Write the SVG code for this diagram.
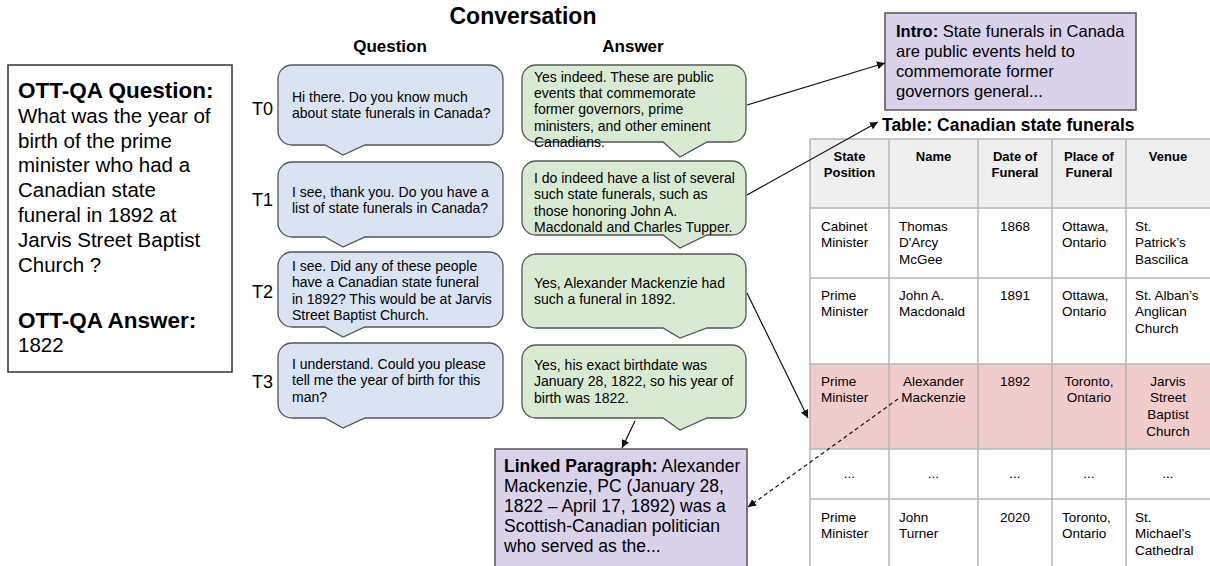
<svg xmlns="http://www.w3.org/2000/svg" width="1210" height="566" viewBox="0 0 1210 566">
<style>
text{font-family:"Liberation Sans",Arial,sans-serif;fill:#000}
.b{font-weight:bold}
.q{fill:#d9e3f1;stroke:#555;stroke-width:1.3}
.a{fill:#d9ead3;stroke:#555;stroke-width:1.3}
.bt{font-size:14px}
.lbl{font-size:18px}
.p{fill:#d9d2e9;stroke:#555;stroke-width:1.5}
.th{font-size:13px;font-weight:bold}
.td{font-size:13.5px}
.c{text-anchor:middle}
.grid{stroke:#b7b7b7;stroke-width:1.5;fill:none}
.con{stroke:#111;stroke-width:1.2;fill:none}
</style>
<defs>
<marker id="ah" viewBox="0 0 10 10" refX="10" refY="5" markerWidth="8" markerHeight="8" markerUnits="userSpaceOnUse" orient="auto">
<path d="M0,0 L10,5 L0,10 z" fill="#111"/>
</marker>
</defs>
<rect width="1210" height="566" fill="#fff"/>

<g id="qa-box">
<rect x="8" y="65" width="224" height="307" fill="#fff" stroke="#333" stroke-width="1.5"/>
<text class="b" x="18" y="98" font-size="22.5">OTT-QA Question:</text>
<text x="18" font-size="20.5"><tspan x="18" y="123">What was the year of</tspan><tspan x="18" y="148">birth of the prime</tspan><tspan x="18" y="172">minister who had a</tspan><tspan x="18" y="197">Canadian state</tspan><tspan x="18" y="222">funeral in 1892 at</tspan><tspan x="18" y="247">Jarvis Street Baptist</tspan><tspan x="18" y="272">Church ?</tspan></text>
<text class="b" x="18" y="328" font-size="22.5">OTT-QA Answer:</text>
<text x="18" y="352" font-size="20.5">1822</text>
</g>

<g id="headers">
<text class="b c" x="523" y="24" font-size="23">Conversation</text>
<text class="b c" x="390" y="52" font-size="17">Question</text>
<text class="b c" x="633" y="52" font-size="17">Answer</text>
<text class="lbl" x="252" y="115">T0</text>
<text class="lbl" x="252" y="206">T1</text>
<text class="lbl" x="252" y="298">T2</text>
<text class="lbl" x="252" y="388">T3</text>
</g>

<g id="q0">
<path class="q" d="M292,65 H489 A14,14 0 0 1 503,79 V131 A14,14 0 0 1 489,145 H365 L343,155 L325,145 H292 A14,14 0 0 1 278,131 V79 A14,14 0 0 1 292,65 Z"/>
<text class="bt"><tspan x="292" y="102">Hi there. Do you know much</tspan><tspan x="292" y="118">about state funerals in Canada?</tspan></text>
</g>
<g id="q1">
<path class="q" d="M292,162 H489 A14,14 0 0 1 503,176 V223 A14,14 0 0 1 489,237 H365 L343,247 L325,237 H292 A14,14 0 0 1 278,223 V176 A14,14 0 0 1 292,162 Z"/>
<text class="bt"><tspan x="292" y="197">I see, thank you. Do you have a</tspan><tspan x="292" y="213">list of state funerals in Canada?</tspan></text>
</g>
<g id="q2">
<path class="q" d="M292,252 H489 A14,14 0 0 1 503,266 V313 A14,14 0 0 1 489,327 H365 L343,337 L325,327 H292 A14,14 0 0 1 278,313 V266 A14,14 0 0 1 292,252 Z"/>
<text class="bt"><tspan x="292" y="271">I see. Did any of these people</tspan><tspan x="292" y="287">have a Canadian state funeral</tspan><tspan x="292" y="304">in 1892? This would be at Jarvis</tspan><tspan x="292" y="320">Street Baptist Church.</tspan></text>
</g>
<g id="q3">
<path class="q" d="M292,343 H489 A14,14 0 0 1 503,357 V404 A14,14 0 0 1 489,418 H365 L343,428 L325,418 H292 A14,14 0 0 1 278,404 V357 A14,14 0 0 1 292,343 Z"/>
<text class="bt"><tspan x="292" y="369">I understand. Could you please</tspan><tspan x="292" y="385">tell me the year of birth for this</tspan><tspan x="292" y="402">man?</tspan></text>
</g>

<g id="a0">
<path class="a" d="M536,65 H732 A14,14 0 0 1 746,79 V128 A14,14 0 0 1 732,142 H707 L680,157 L663,142 H536 A14,14 0 0 1 522,128 V79 A14,14 0 0 1 536,65 Z"/>
<text class="bt"><tspan x="534" y="82">Yes indeed. These are public</tspan><tspan x="534" y="98">events that commemorate</tspan><tspan x="534" y="114">former governors, prime</tspan><tspan x="534" y="131">ministers, and other eminent</tspan><tspan x="534" y="147">Canadians.</tspan></text>
</g>
<g id="a1">
<path class="a" d="M536,161 H732 A14,14 0 0 1 746,175 V221 A14,14 0 0 1 732,235 H707 L680,248 L663,235 H536 A14,14 0 0 1 522,221 V175 A14,14 0 0 1 536,161 Z"/>
<text class="bt"><tspan x="534" y="183">I do indeed have a list of several</tspan><tspan x="534" y="199">such state funerals, such as</tspan><tspan x="534" y="216">those honoring John A.</tspan><tspan x="534" y="232">Macdonald and Charles Tupper.</tspan></text>
</g>
<g id="a2">
<path class="a" d="M536,254 H732 A14,14 0 0 1 746,268 V314 A14,14 0 0 1 732,328 H707 L680,338 L663,328 H536 A14,14 0 0 1 522,314 V268 A14,14 0 0 1 536,254 Z"/>
<text class="bt"><tspan x="534" y="288">Yes, Alexander Mackenzie had</tspan><tspan x="534" y="304">such a funeral in 1892.</tspan></text>
</g>
<g id="a3">
<path class="a" d="M536,345 H732 A14,14 0 0 1 746,359 V404 A14,14 0 0 1 732,418 H707 L680,430 L663,418 H536 A14,14 0 0 1 522,404 V359 A14,14 0 0 1 536,345 Z"/>
<text class="bt"><tspan x="534" y="370">Yes, his exact birthdate was</tspan><tspan x="534" y="386">January 28, 1822, so his year of</tspan><tspan x="534" y="403">birth was 1822.</tspan></text>
</g>

<g id="intro">
<rect class="p" x="885" y="13" width="251" height="97"/>
<text font-size="16.5"><tspan x="896" y="37"><tspan class="b">Intro:</tspan> State funerals in Canada</tspan><tspan x="896" y="57">are public events held to</tspan><tspan x="896" y="77">commemorate former</tspan><tspan x="896" y="97">governors general...</tspan></text>
</g>

<g id="linked">
<rect class="p" x="495" y="449" width="252" height="118"/>
<text font-size="17.5"><tspan x="504" y="472"><tspan class="b">Linked Paragraph:</tspan> Alexander</tspan><tspan x="504" y="492">Mackenzie, PC (January 28,</tspan><tspan x="504" y="512">1822 – April 17, 1892) was a</tspan><tspan x="504" y="532">Scottish-Canadian politician</tspan><tspan x="504" y="552">who served as the...</tspan></text>
</g>

<g id="table">
<text class="b" x="882" y="131" font-size="17.5">Table: Canadian state funerals</text>
<rect x="810" y="139" width="402" height="69" fill="#efefef"/>
<rect x="810" y="364" width="402" height="85" fill="#f0cdcc"/>
<path class="grid" d="M810,139 H1212 M810,208 H1212 M810,278 H1212 M810,364 H1212 M810,449 H1212 M810,499 H1212 M810,139 V566 M889,139 V566 M978,139 V566 M1052,139 V566 M1126,139 V566"/>
<g class="th">
<text class="c" x="849.5" y="161">State</text><text class="c" x="849.5" y="177">Position</text>
<text class="c" x="933.5" y="161">Name</text>
<text class="c" x="1015" y="161">Date of</text><text class="c" x="1015" y="177">Funeral</text>
<text class="c" x="1089" y="161">Place of</text><text class="c" x="1089" y="177">Funeral</text>
<text class="c" x="1168" y="161">Venue</text>
</g>
<g class="td">
<text><tspan x="821" y="231">Cabinet</tspan><tspan x="821" y="247">Minister</tspan></text>
<text><tspan x="899" y="231">Thomas</tspan><tspan x="899" y="247">D'Arcy</tspan><tspan x="899" y="264">McGee</tspan></text>
<text class="c" x="1015" y="231">1868</text>
<text><tspan x="1062" y="231">Ottawa,</tspan><tspan x="1062" y="247">Ontario</tspan></text>
<text><tspan x="1135" y="231">St.</tspan><tspan x="1135" y="247">Patrick’s</tspan><tspan x="1135" y="264">Bascilica</tspan></text>

<text><tspan x="821" y="300">Prime</tspan><tspan x="821" y="316">Minister</tspan></text>
<text><tspan x="899" y="300">John A.</tspan><tspan x="899" y="316">Macdonald</tspan></text>
<text class="c" x="1015" y="300">1891</text>
<text><tspan x="1062" y="300">Ottawa,</tspan><tspan x="1062" y="316">Ontario</tspan></text>
<text><tspan x="1135" y="300">St. Alban’s</tspan><tspan x="1135" y="316">Anglican</tspan><tspan x="1135" y="333">Church</tspan></text>

<text><tspan x="821" y="386">Prime</tspan><tspan x="821" y="402">Minister</tspan></text>
<text class="c"><tspan x="933.5" y="386">Alexander</tspan><tspan x="933.5" y="402">Mackenzie</tspan></text>
<text class="c" x="1015" y="386">1892</text>
<text class="c"><tspan x="1089" y="386">Toronto,</tspan><tspan x="1089" y="402">Ontario</tspan></text>
<text class="c"><tspan x="1168" y="386">Jarvis</tspan><tspan x="1168" y="402">Street</tspan><tspan x="1168" y="419">Baptist</tspan><tspan x="1168" y="436">Church</tspan></text>

<text class="c" x="849.5" y="478">...</text>
<text class="c" x="933.5" y="478">...</text>
<text class="c" x="1015" y="478">...</text>
<text class="c" x="1089" y="478">...</text>
<text class="c" x="1168" y="478">...</text>

<text><tspan x="821" y="522">Prime</tspan><tspan x="821" y="538">Minister</tspan></text>
<text><tspan x="899" y="522">John</tspan><tspan x="899" y="538">Turner</tspan></text>
<text class="c" x="1015" y="522">2020</text>
<text><tspan x="1062" y="522">Toronto,</tspan><tspan x="1062" y="538">Ontario</tspan></text>
<text><tspan x="1135" y="522">St.</tspan><tspan x="1135" y="538">Michael’s</tspan><tspan x="1135" y="555">Cathedral</tspan></text>
</g>
</g>

<g id="connectors">
<path class="con" d="M747,105 L885,63" marker-end="url(#ah)"/>
<path class="con" d="M747,195 L878,122" marker-end="url(#ah)"/>
<path class="con" d="M747,293 L808,418" marker-end="url(#ah)"/>
<path class="con" d="M635,421 L622,448" marker-end="url(#ah)"/>
<path class="con" d="M898,399 L748,507" stroke-dasharray="4,3" marker-end="url(#ah)"/>
</g>
</svg>
